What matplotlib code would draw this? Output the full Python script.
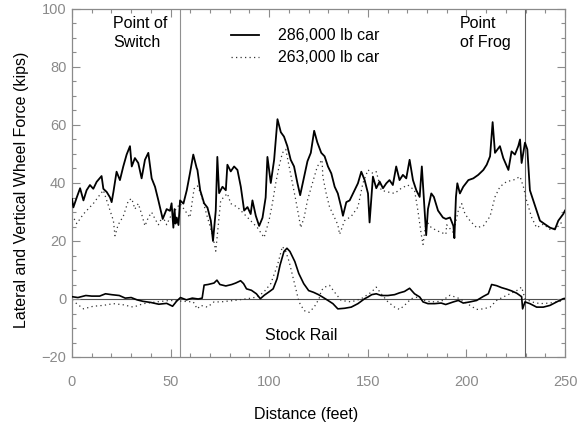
import matplotlib
matplotlib.use("Agg")
import matplotlib.pyplot as plt
from matplotlib.ticker import MultipleLocator

plt.rcParams['font.family'] = ['Liberation Sans', 'DejaVu Sans']

# ---------------- data ----------------
# Vertical wheel force, 286,000 lb car (solid)
v286_x = [0, 0.7, 2.4, 4.1, 5.8, 7.4, 9.1, 10.8, 12.5, 15.0, 15.9, 17.6, 19.3, 20.1, 21.0,
          22.6, 24.3, 26.0, 27.7, 29.4, 30.3, 31.9, 33.6, 35.3, 37.0, 38.7, 40.4, 42.1,
          43.8, 46.0, 48.0, 49.7, 50.5, 51.4, 52.0, 52.5, 53.1, 54.0, 54.8, 56.5, 58.2,
          59.8, 61.5, 63.2, 63.6, 65.0, 67.0, 68.7, 70.4, 71.5, 72.9, 73.7, 74.6, 76.3,
          78.0, 78.8, 80.5, 82.2, 83.9, 85.6, 87.3, 89.0, 90.6, 91.5, 93.2, 94.9, 96.6,
          98.2, 99.1, 100.8, 102.5, 104.2, 105.9, 107.5, 109.2, 110.9, 112.6, 114.3,
          115.7, 117.7, 119.4, 121.1, 122.8, 124.4, 126.4, 128.1, 129.8, 131.5, 133.2,
          134.8, 136.5, 137.4, 139.1, 140.8, 143.3, 145.0, 146.7, 148.4, 150.1, 150.9,
          152.6, 154.3, 156.0, 157.7, 159.4, 161.0, 162.7, 164.4, 166.1, 167.8, 169.5,
          171.2, 172.9, 174.6, 176.3, 177.4, 178.5, 179.6, 180.5, 182.2, 183.5, 185.6,
          188.1, 189.6, 191.7, 193.4, 193.9, 194.7, 195.4, 196.7, 198.4, 201.0, 203.5,
          206.0, 208.6, 210.3, 212.0, 213.3, 214.5, 217.0, 218.7, 221.3, 222.9, 224.6,
          226.3, 227.2, 228.0, 229.7, 230.9, 232.2, 233.9, 235.6, 237.3, 239.8, 242.4,
          244.9, 246.6, 249.1, 250.0]
v286 = [34.5, 31.6, 35, 38.2, 34, 37.5, 39.3, 38, 40.4, 42.4, 38, 36.9, 35, 33.4, 36.9,
        43.9, 41, 45.7, 49.8, 52.7, 45.7, 48.6, 46.9, 41.6, 48, 50.4, 41.6, 38.7,
        34, 27.6, 31, 30.4, 33, 24.6, 31, 26, 28.1, 25.5, 34, 32.9, 37.5,
        43.3, 49.8, 45.2, 44.5, 37.5, 33, 31.5, 27, 20, 30.5, 49, 36.5, 38.7,
        37.5, 46.3, 44, 45.7, 44.5, 38.7, 30.5, 31.7, 29.3, 34, 28.7, 25.2, 28,
        35, 49, 40, 48, 62, 57.5, 56, 52.7, 48, 45.7, 40,
        35.8, 42.2, 47.5, 50.4, 58, 54, 50.4, 49.2, 45.7, 43.3, 38.7,
        36.4, 31.7, 28.7, 33.4, 34, 37.5, 39.9, 43.9, 41, 36.4, 26.4,
        42.2, 38.2, 40.5, 38.2, 39.9, 41, 39.3, 45.7, 41, 42.8, 41.6,
        48, 41, 37.5, 35.2, 45.7, 34, 22, 31, 36.4, 35.2, 30.5,
        28.1, 27.6, 28.1, 25.2, 21, 35.2, 39.9, 36.4, 38.7, 41, 41.6,
        42.8, 44.5, 46.3, 49.2, 61, 50.4, 52.7, 48.6, 44.5, 50.9, 49.8,
        52.7, 55, 46.9, 53.9, 51.6, 37.5, 34, 30.5, 27, 25.8, 24.6,
        24, 27, 29.3, 30.5]

# Vertical wheel force, 263,000 lb car (dotted)
v263_x = [0, 2.4, 5.8, 9.1, 10.8, 13.3, 15.9, 17.6, 19.3, 21.0, 21.8, 23.4, 26.0, 28.6,
          30.3, 31.9, 33.6, 35.3, 37.0, 38.7, 40.4, 42.1, 43.8, 46.0, 48.0, 49.7, 52.2,
          54.8, 57.3, 59.8, 61.9, 63.6, 65.3, 68.7, 71.2, 72.9, 75.4, 78.8, 80.5, 83.9,
          87.3, 90.6, 94.0, 97.4, 99.9, 101.6, 103.3, 105.0, 106.7, 108.4, 110.1, 111.8,
          113.5, 115.1, 116.0, 117.7, 119.4, 121.9, 124.4, 126.8, 127.2, 128.9, 130.6,
          132.3, 134.8, 135.7, 138.2, 141.6, 145.0, 147.5, 150.1, 152.6, 154.3, 156.8,
          160.2, 163.6, 167.0, 170.3, 173.7, 175.4, 177.1, 178.0, 179.6, 182.2, 185.6,
          189.6, 190.0, 193.4, 195.9, 197.6, 199.3, 201.8, 205.2, 208.6, 212.0, 214.5,
          217.0, 220.4, 223.8, 227.2, 228.9, 230.5, 233.1, 235.6, 239.0, 242.4, 245.8,
          249.1]
v263 = [29, 26, 29.3, 31.7, 32.9, 35.2, 37.5, 34, 30.5, 27, 21.8, 25.6, 28.5, 34,
        34.6, 31, 32.9, 29.3, 25.2, 28.1, 29.9, 27.6, 25.6, 28.5, 25.6, 28.1, 30.5,
        32.9, 30.5, 28.1, 38, 39, 36.4, 28.1, 22.3, 16.5, 34, 36.4, 32.9, 31.7,
        29.3, 27, 24.6, 21.2, 27, 32.9, 39.9, 45.7, 50.4, 51.6, 45.7, 39.9,
        34, 28.1, 24.6, 28.1, 34, 39.9, 45.7, 48, 42.2, 36.4, 31.7,
        29.3, 25.6, 22.3, 27, 28.5, 31.7, 39.9, 44.5, 43.3, 43.9, 37.5,
        36.9, 36.4, 38.2, 39.3, 37.5, 30.5, 22.3, 18.8, 27, 24.6, 23.4,
        22.3, 25.6, 22.9, 30.5, 32.9, 29.3, 27, 24.6, 25.2, 28.5, 35.2,
        38.7, 40.5, 41, 42.2, 38.7, 34, 28.1, 24.6, 25.8, 24, 24.6,
        27]

# Lateral wheel force (stock rail), 286,000 lb car (solid)
l286_x = [0, 3, 7, 10, 14, 17, 20, 24, 27, 30, 33, 36, 40, 44, 48, 51, 53, 55, 58, 61,
          64, 66, 67, 69, 72, 73.5, 75, 78, 81, 83, 85.5, 87, 88.5, 91, 93.5, 95.5, 97.5,
          100, 102, 104, 105.5, 107.5, 109, 110.5, 113, 115, 117.5, 120, 122.5, 125, 127,
          129.8, 132.3, 134.8, 138.2, 141.6, 145, 148.4, 150.1, 152, 154.3, 156.8, 160.2,
          163.6, 166, 168.6, 171.2, 173.7, 176.3, 178, 180.5, 183.9, 187.2, 189.5, 193.4,
          195.9, 198.4, 201.8, 205.2, 208.6, 211.1, 212.8, 215.3, 217.9, 220.4, 222.9,
          225.5, 228, 228.5, 229.7, 232.2, 235.6, 239, 242.4, 245.8, 249.1, 250]
l286 = [0.8, 0.5, 1.2, 1.0, 1.0, 1.8, 1.5, 1.2, 0.3, 0.5, -0.3, -0.8, -1.2, -1.8, -1.5,
        -2.5, -0.8, 0.5, -0.3, 0.3, 0.0, 0.3, 4.8, 5.0, 5.5, 6.5, 5.0, 4.5, 5.0, 5.5,
        6.3, 5.3, 3.5, 3.0, 1.8, 0.1, 1.3, 2.5, 3.5, 7.0, 11.7, 16.4, 17.5, 16.4, 12.9,
        8.8, 5.3, 2.9, 2.3, 1.5, 0.7, -0.5, -1.6, -3.4, -3.2, -2.8, -1.6, 0.1, 0.7, 1.5,
        1.8, 1.2, 1.2, 1.5, 2.1, 2.6, 3.7, 1.8, 0.7, -1.0, -1.6, -1.6, -1.4, -1.9, -1.0,
        -0.5, -1.4, -1.0, -0.5, 0.9, 1.8, 5.0, 4.6, 3.9, 3.4, 2.8, 2.0, 0.8, -3.4, -1.0,
        -1.6, -2.8, -2.8, -2.2, -1.0, 0.1, 0.2]

# Lateral wheel force (stock rail), 263,000 lb car (dotted)
l263_x = [0, 2.4, 5.8, 10.8, 15.9, 21.0, 26.0, 31.1, 36.2, 42.9, 49.7, 56.5, 61.5, 63.5,
          65.3, 68.7, 72.0, 75.4, 82.2, 89.0, 94.0, 97.4, 100.8, 104.2, 106.7, 108.4,
          110.1, 111.8, 113.5, 115.1, 117.7, 120.2, 122.8, 125.3, 126.4, 128.1, 130.6,
          133.2, 136.5, 141.6, 146.7, 151.7, 154.3, 156.8, 160.2, 163.6, 166.1, 168.6,
          172.0, 175.4, 178.8, 182.2, 187.2, 191.7, 196.7, 201.8, 205.2, 208.6, 212.0,
          215.3, 218.7, 222.1, 225.5, 228.0, 229.7, 233.1, 237.3, 242.4, 247.5, 250.0]
l263 = [-0.5, -1.6, -3.4, -2.5, -2.2, -1.6, -2.0, -2.8, -1.6, -1.0, -0.5, -0.8, -1.0, -3.4,
        -2.2, -2.8, -1.0, -1.0, -0.5, 0.1, 0.7, 2.5, 5.3, 11.7, 18.1, 16.4,
        12.9, 8.2, 3.5, -1.0, -4.0, -4.6, -2.8, 0.1, 2.9, 4.1, 4.7,
        2.3, -0.5, -1.0, 0.1, 2.3, 4.1, 1.8, -1.0, -2.8, -3.6, -2.2,
        0.1, 0.7, -0.5, -1.0, -0.8, 1.3, 0.1, -2.2, -3.6, -3.4, -2.8,
        -0.5, 0.7, 1.8, 2.9, 4.1, 0.1, -1.0, -1.6, -1.4, -0.8, 0.1]

switch_x = 55.0
frog_x = 229.5
series_labels = ["286,000 lb car", "263,000 lb car"]
x_ticks = [0, 50, 100, 150, 200, 250]
y_ticks = [-20, 0, 20, 40, 60, 80, 100]

# ---------------- figure ----------------
fig = plt.figure(figsize=(5.82, 4.24), dpi=100)
ax = fig.add_axes([72/582, 1-357/424, (565-72)/582, (357-9)/424])

gray = '#8c8c8c'
ax.axvline(switch_x, color='#909090', lw=0.8, zorder=1)
ax.axvline(frog_x, color='#606060', lw=0.8, zorder=1)
ax.axhline(0, color='#505050', lw=0.8, zorder=1)

ls_dot = (0, (1.0, 2.6))
h1, = ax.plot(v286_x, v286, color='black', lw=1.3, zorder=3, label=series_labels[0])
h2, = ax.plot(v263_x, v263, color='#333333', lw=0.9, ls=ls_dot, zorder=2, label=series_labels[1])
ax.plot(l286_x, l286, color='black', lw=1.2, zorder=3)
ax.plot(l263_x, l263, color='#333333', lw=0.9, ls=ls_dot, zorder=2)

ax.set_xlim(0, 250)
ax.set_ylim(-20, 100)
ax.xaxis.set_major_locator(plt.FixedLocator(x_ticks))
ax.yaxis.set_major_locator(plt.FixedLocator(y_ticks))
ax.xaxis.set_minor_locator(MultipleLocator(10))
ax.yaxis.set_minor_locator(MultipleLocator(5))
ax.set_xticklabels([str(t) for t in x_ticks])
ax.set_yticklabels([str(t).replace('-', '\u2212') for t in y_ticks])
ax.tick_params(which='both', direction='in', top=True, right=True, color=gray, width=0.8)
ax.tick_params(which='major', length=6)
ax.tick_params(which='minor', length=3)
ax.tick_params(axis='x', which='major', pad=13, labelsize=10.5, labelcolor='#8a8a8a')
ax.tick_params(axis='y', which='major', pad=4, labelsize=10.5, labelcolor='#8a8a8a')
for s in ax.spines.values():
    s.set_color('#8a8a8a')
    s.set_linewidth(0.9)

fs = 11.5
ax.text(20.8, 97.5, "Point of\nSwitch", fontsize=fs, ha='left', va='top', linespacing=1.3)
ax.text(196.8, 97.5, "Point\nof Frog", fontsize=fs, ha='left', va='top', linespacing=1.3)
ax.text(98.0, -12.5, "Stock Rail", fontsize=fs, ha='left', va='center')

ax.legend(handles=[h1, h2], loc='upper left', bbox_to_anchor=(0.322, 0.945), frameon=False,
          fontsize=fs, handlelength=1.75, handletextpad=1.2, labelspacing=0.45,
          borderpad=0, borderaxespad=0)

fig.text(306/582, 1-414/424, "Distance (feet)", fontsize=fs, ha='center', va='center')
fig.text(22/582, 1-190/424, "Lateral and Vertical Wheel Force (kips)", fontsize=fs,
         ha='center', va='center', rotation=90)

fig.savefig("out.png", dpi=100)
